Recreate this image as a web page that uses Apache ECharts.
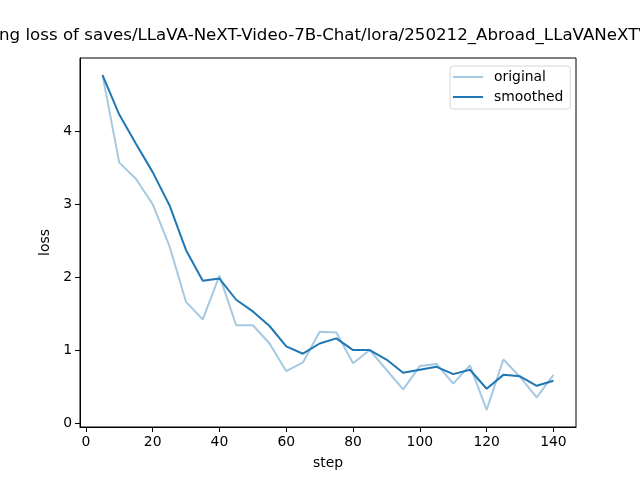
<!DOCTYPE html>
<html>
<head>
<meta charset="utf-8">
<script src="https://cdn.jsdelivr.net/npm/echarts@6/dist/echarts.min.js"></script>
<style>
  html, body { margin: 0; padding: 0; background: #fff; }
  #chart { width: 640px; height: 480px; }
</style>
</head>
<body>
<div id="chart"></div>
<script>
// values
const steps = [5, 10, 15, 20, 25, 30, 35, 40, 45, 50, 55, 60, 65, 70,
  75, 80, 85, 90, 95, 100, 105, 110, 115, 120, 125, 130, 135, 140];
const original = [4.77, 3.57, 3.35, 3.0, 2.43, 1.66, 1.42, 2.02, 1.34, 1.34,
  1.09, 0.71, 0.83, 1.25, 1.24, 0.82, 1.0, 0.73, 0.46, 0.78,
  0.81, 0.54, 0.79, 0.18, 0.87, 0.63, 0.35, 0.66];
const smoothed = [4.77, 4.23, 3.83, 3.44, 2.99, 2.37, 1.95, 1.98, 1.69, 1.53,
  1.33, 1.05, 0.95, 1.09, 1.16, 1.0, 1.0, 0.87, 0.69, 0.73,
  0.77, 0.67, 0.73, 0.47, 0.66, 0.64, 0.51, 0.58];
const xTicks = [0, 20, 40, 60, 80, 100, 120, 140];
const yTicks = [0, 1, 2, 3, 4];

const titleText =
  "training loss of saves/LLaVA-NeXT-Video-7B-Chat/lora/250212_Abroad_LLaVANeXTVideo";

const FONT = "DejaVu Sans";
const TITLE_FONT = `16.67px "${FONT}"`;
const LABEL_SIZE = 13.9;

function pairs(xs, ys) {
  return xs.map((x, i) => [x, ys[i]]);
}

// the title is too wide for the figure and gets clipped on both sides;
// line it up so the visible part starts at "ng loss of ..."
function textWidth(str, font) {
  const ctx = document.createElement("canvas").getContext("2d");
  ctx.font = font;
  return ctx.measureText(str).width;
}
const titleX = -textWidth("traini", TITLE_FONT) - 1;

const chart = echarts.init(document.getElementById("chart"), null, {
  renderer: "canvas",
});

const axisCommon = {
  axisLine: { show: true, onZero: false, lineStyle: { color: "#000", width: 1 } },
  axisTick: { show: true, length: 5, lineStyle: { color: "#000", width: 1 } },
  splitLine: { show: false },
  nameTextStyle: { color: "#000", fontFamily: FONT, fontSize: LABEL_SIZE },
};

const labelStyle = {
  color: "#000",
  fontFamily: FONT,
  fontSize: LABEL_SIZE,
  margin: 8,
};

const option = {
  animation: false,
  textStyle: { fontFamily: FONT },

  graphic: [
    {
      type: "text",
      x: titleX,
      y: 36,
      style: {
        text: titleText,
        font: TITLE_FONT,
        fill: "#000",
        align: "left",
        verticalAlign: "middle",
      },
    },
  ],

  grid: {
    left: 80,
    right: 64,
    top: 58,
    bottom: 53,
    show: true,
    borderColor: "#000",
    borderWidth: 1,
    containLabel: false,
  },

  legend: {
    orient: "vertical",
    left: 450,
    top: 66,
    itemWidth: 30,
    itemHeight: 2,
    itemGap: 6,
    icon: "rect",
    padding: [4, 7, 5, 3],
    backgroundColor: "rgba(255,255,255,0.8)",
    borderColor: "#d6d6d6",
    borderWidth: 1,
    borderRadius: 3,
    textStyle: {
      color: "#000",
      fontFamily: FONT,
      fontSize: LABEL_SIZE,
      lineHeight: 14,
      padding: [0, 0, 0, 6],
    },
    data: ["original", "smoothed"],
  },

  xAxis: {
    ...axisCommon,
    type: "value",
    min: -1.75,
    max: 146.75,
    name: "step",
    nameLocation: "middle",
    nameGap: 29,
    axisTick: { ...axisCommon.axisTick, customValues: xTicks },
    axisLabel: { ...labelStyle, customValues: xTicks },
  },

  yAxis: {
    ...axisCommon,
    type: "value",
    min: -0.055,
    max: 5.005,
    name: "loss",
    nameLocation: "middle",
    nameGap: 25,
    axisTick: { ...axisCommon.axisTick, customValues: yTicks },
    axisLabel: { ...labelStyle, customValues: yTicks },
  },

  series: [
    {
      name: "original",
      type: "line",
      data: pairs(steps, original),
      showSymbol: false,
      color: "rgba(31,119,180,0.4)",
      lineStyle: { width: 2, color: "rgba(31,119,180,0.4)" },
      z: 2,
    },
    {
      name: "smoothed",
      type: "line",
      data: pairs(steps, smoothed),
      showSymbol: false,
      color: "#1f77b4",
      lineStyle: { width: 2, color: "#1f77b4" },
      z: 3,
    },
  ],
};

chart.setOption(option);
</script>
</body>
</html>
